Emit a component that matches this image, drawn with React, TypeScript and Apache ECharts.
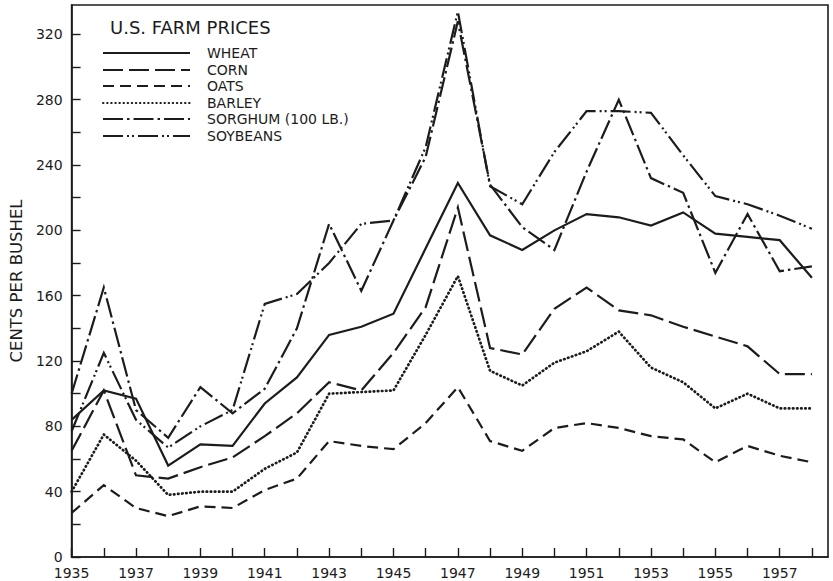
import React, { useEffect, useRef } from "react";
import * as echarts from "echarts";

const years = [1935, 1936, 1937, 1938, 1939, 1940, 1941, 1942, 1943, 1944, 1945, 1946, 1947, 1948, 1949, 1950, 1951, 1952, 1953, 1954, 1955, 1956, 1957, 1958];

const wheat = [84, 102, 97, 56, 69, 68, 94, 110, 136, 141, 149, 189, 229, 197, 188, 200, 210, 208, 203, 211, 198, 196, 194, 171];
const corn = [65, 102, 50, 48, 55, 61, 74, 88, 107, 102, 125, 153, 214, 128, 124, 152, 165, 151, 148, 141, 135, 129, 112, 112];
const oats = [27, 44, 30, 25, 31, 30, 41, 48, 71, 68, 66, 82, 104, 71, 65, 79, 82, 79, 74, 72, 58, 68, 62, 58];
const barley = [40, 75, 59, 38, 40, 40, 54, 64, 100, 101, 102, 136, 172, 114, 105, 119, 126, 138, 116, 107, 91, 100, 91, 91];
const sorghum = [100, 165, 90, 73, 104, 88, 103, 140, 204, 163, 206, 245, 328, 228, 202, 188, 236, 280, 232, 223, 174, 210, 175, 178];
const soybeans = [77, 125, 84, 67, 80, 90, 155, 161, 180, 204, 206, 251, 334, 227, 216, 248, 273, 273, 272, 246, 221, 216, 209, 201];

const seriesNames = ["WHEAT", "CORN", "OATS", "BARLEY", "SORGHUM (100 LB.)", "SOYBEANS"];
const seriesValues = [wheat, corn, oats, barley, sorghum, soybeans];

const titleText = "U.S. FARM PRICES";
const yAxisName = "CENTS PER BUSHEL";

const INK = "#1c1c1c";
const FONT = "'DejaVu Sans', 'Liberation Sans', sans-serif";

const dashStyles: any[] = [
  "solid",
  [20, 6],
  [11, 6],
  [0.5, 3.6],
  [20, 4, 2.5, 4],
  [20, 4, 2, 3, 2, 4],
];
const caps = ["butt", "butt", "butt", "round", "butt", "butt"];

export default function App() {
  const ref = useRef<HTMLDivElement>(null);

  useEffect(() => {
    if (!ref.current) return;
    const chart = echarts.init(ref.current, null, { renderer: "svg" });

    const legendTop = 53;
    const legendStep = 16.6;
    const legendGraphics: any[] = [];
    seriesNames.forEach((name, i) => {
      const y = Math.round(legendTop + i * legendStep);
      legendGraphics.push({
        type: "line",
        shape: { x1: 103, y1: y, x2: 190, y2: y },
        style: {
          stroke: INK,
          lineWidth: 2,
          lineDash: dashStyles[i] === "solid" ? null : dashStyles[i],
          lineCap: caps[i],
        },
        z: 10,
      });
      legendGraphics.push({
        type: "text",
        x: 207,
        y: y,
        style: {
          text: name,
          fill: INK,
          font: `14px ${FONT}`,
          verticalAlign: "middle",
          textAlign: "left",
        },
        z: 10,
      });
    });

    const option: any = {
      animation: false,
      backgroundColor: "#ffffff",
      textStyle: { fontFamily: FONT },
      grid: {
        left: 61,
        right: 5,
        top: 5,
        bottom: 24,
        show: true,
        borderColor: INK,
        borderWidth: 1.6,
        containLabel: false,
      },
      xAxis: {
        type: "value",
        min: 1935,
        max: 1958.5,
        interval: 1,
        axisLine: { show: true, lineStyle: { color: INK, width: 1.6 } },
        axisTick: { show: true, inside: true, length: 9, lineStyle: { color: INK, width: 1.4 } },
        splitLine: { show: false },
        axisLabel: {
          show: true,
          color: INK,
          fontSize: 14,
          fontFamily: FONT,
          margin: 9,
          showMaxLabel: false,
          formatter: (v: number) =>
            Number.isInteger(v) && v % 2 === 1 && v <= 1957 ? String(v) : "",
        },
      },
      yAxis: {
        type: "value",
        min: 0,
        max: 338,
        interval: 20,
        name: yAxisName,
        nameLocation: "middle",
        nameRotate: 90,
        nameGap: 46,
        nameTextStyle: { color: INK, fontSize: 16.5, fontFamily: FONT },
        axisLine: { show: true, lineStyle: { color: INK, width: 1.6 } },
        axisTick: { show: true, inside: true, length: 9, lineStyle: { color: INK, width: 1.4 } },
        splitLine: { show: false },
        axisLabel: {
          show: true,
          color: INK,
          fontSize: 14,
          fontFamily: FONT,
          margin: 9,
          showMaxLabel: false,
          formatter: (v: number) => (v % 40 === 0 ? String(v) : ""),
        },
      },
      series: seriesNames.map((name, i) => ({
        name,
        type: "line",
        data: years.map((yr, k) => [yr, seriesValues[i][k]]),
        symbol: "none",
        smooth: false,
        lineStyle: {
          color: INK,
          width: i === 3 ? 2.7 : 2.2,
          type: dashStyles[i],
          cap: caps[i],
          join: "miter",
        },
        z: 5,
      })),
      graphic: [
        {
          type: "text",
          x: 110,
          y: 27,
          style: {
            text: titleText,
            fill: INK,
            font: `18px ${FONT}`,
            verticalAlign: "middle",
            textAlign: "left",
          },
          z: 10,
        },
        ...legendGraphics,
      ],
    };

    chart.setOption(option);
    return () => chart.dispose();
  }, []);

  return (
    <div
      ref={ref}
      style={{ position: "fixed", left: 0, top: 0, width: 833, height: 581, background: "#fff" }}
    />
  );
}
